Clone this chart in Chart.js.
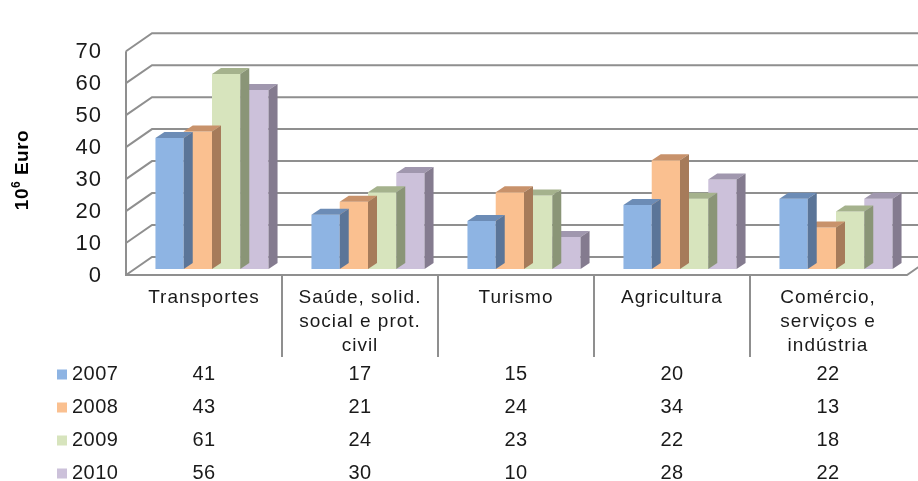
<!DOCTYPE html>
<html>
<head>
<meta charset="utf-8">
<script src="https://cdn.jsdelivr.net/npm/chart.js@4.4.0/dist/chart.umd.min.js"></script>
<style>
  html, body { margin: 0; padding: 0; background: #fff; }
</style>
</head>
<body>
<canvas id="chart" width="918" height="481"></canvas>
<script>
const categories = [
  ['Transportes'],
  ['Saúde, solid.', 'social e prot.', 'civil'],
  ['Turismo'],
  ['Agricultura'],
  ['Comércio,', 'serviços e', 'indústria']
];
const years = ['2007', '2008', '2009', '2010'];
const values2007 = [41, 17, 15, 20, 22];
const values2008 = [43, 21, 24, 34, 13];
const values2009 = [61, 24, 23, 22, 18];
const values2010 = [56, 30, 10, 28, 22];
const yTicks = [0, 10, 20, 30, 40, 50, 60, 70];

// front / top / side colours for each year
const colors = [
  ['#8eb4e3', '#6c8cb6', '#5b7598'],
  ['#fac090', '#c8926b', '#a67b5a'],
  ['#d7e4bd', '#a5b28d', '#8a9577'],
  ['#ccc1da', '#a097ae', '#847b8f']
];

const DEPTH_X = 9, DEPTH_Y = -6;
const FONT = '"Liberation Sans", Arial, sans-serif';
const TEXT = '#1a1a1a';

const threeD = {
  id: 'threeD',
  beforeDraw(chart) {
    chart.ctx.letterSpacing = '1px';
  },
  beforeDatasetsDraw(chart) {
    const ctx = chart.ctx, y = chart.scales.y, a = chart.chartArea;
    const fx = a.left - 8, bx = a.left + 18, fr = a.right - 7;
    ctx.save();
    ctx.strokeStyle = '#8f8f8f';
    ctx.lineWidth = 2;
    yTicks.forEach(v => {
      const py = y.getPixelForValue(v);
      ctx.beginPath();
      ctx.moveTo(fx, py + 6);
      ctx.lineTo(bx, py - 12);
      ctx.lineTo(fr + 26, py - 12);
      ctx.stroke();
    });
    const top = y.getPixelForValue(70), base = y.getPixelForValue(0);
    ctx.beginPath();
    ctx.moveTo(fx, top + 6);
    ctx.lineTo(fx, base + 6);
    ctx.lineTo(fr, base + 6);
    ctx.lineTo(fr + 26, base - 12);
    ctx.stroke();
    ctx.restore();
  },
  afterDatasetDraw(chart, args) {
    const ctx = chart.ctx;
    const c = colors[args.index];
    ctx.save();
    args.meta.data.forEach(bar => {
      const p = bar.getProps(['x', 'y', 'base', 'width'], true);
      const l = p.x - p.width / 2, r = p.x + p.width / 2;
      ctx.fillStyle = c[1];
      ctx.beginPath();
      ctx.moveTo(l, p.y);
      ctx.lineTo(l + DEPTH_X, p.y + DEPTH_Y);
      ctx.lineTo(r + DEPTH_X, p.y + DEPTH_Y);
      ctx.lineTo(r, p.y);
      ctx.closePath();
      ctx.fill();
      ctx.fillStyle = c[2];
      ctx.beginPath();
      ctx.moveTo(r, p.y);
      ctx.lineTo(r + DEPTH_X, p.y + DEPTH_Y);
      ctx.lineTo(r + DEPTH_X, p.base + DEPTH_Y);
      ctx.lineTo(r, p.base);
      ctx.closePath();
      ctx.fill();
    });
    ctx.restore();
  },
  afterDraw(chart) {
    const ctx = chart.ctx, x = chart.scales.x, y = chart.scales.y;
    const base = y.getPixelForValue(0) + 6;
    const colW = x.getPixelForValue(1) - x.getPixelForValue(0);
    const left = chart.chartArea.left - 8;
    ctx.save();
    // table column separators
    ctx.strokeStyle = '#8f8f8f';
    ctx.lineWidth = 2;
    for (let k = 1; k < categories.length; k++) {
      ctx.beginPath();
      ctx.moveTo(left + k * colW, base);
      ctx.lineTo(left + k * colW, base + 82);
      ctx.stroke();
    }
    ctx.fillStyle = TEXT;
    ctx.textAlign = 'center';
    ctx.textBaseline = 'middle';
    ctx.letterSpacing = '1px';
    ctx.font = '19px ' + FONT;
    categories.forEach((lines, i) => {
      const cx = left + (i + 0.5) * colW;
      lines.forEach((t, j) => ctx.fillText(t, cx, base + 23 + j * 24));
    });
    ctx.letterSpacing = '0.5px';
    ctx.font = '20px ' + FONT;
    const rows = [values2007, values2008, values2009, values2010];
    rows.forEach((vals, r) => {
      const ry = base + 99.5 + r * 33;
      ctx.fillStyle = colors[r][0];
      ctx.fillRect(57, ry - 5, 10, 10);
      ctx.fillStyle = TEXT;
      ctx.textAlign = 'left';
      ctx.fillText(years[r], 72, ry);
      ctx.textAlign = 'center';
      vals.forEach((v, i) => ctx.fillText(String(v), left + (i + 0.5) * colW, ry));
    });
    // y axis title with superscript
    ctx.fillStyle = '#000';
    ctx.letterSpacing = '0.5px';
    ctx.translate(23, 170);
    ctx.rotate(-Math.PI / 2);
    ctx.textAlign = 'left';
    ctx.font = 'bold 19px ' + FONT;
    const w10 = ctx.measureText('10').width;
    ctx.font = 'bold 12px ' + FONT;
    const w6 = ctx.measureText('6').width;
    ctx.font = 'bold 19px ' + FONT;
    const wE = ctx.measureText(' Euro').width;
    let sx = -(w10 + w6 + wE) / 2;
    ctx.fillText('10', sx, 0);
    sx += w10;
    ctx.font = 'bold 12px ' + FONT;
    ctx.fillText('6', sx, -6);
    sx += w6;
    ctx.font = 'bold 19px ' + FONT;
    ctx.fillText(' Euro', sx, 0);
    ctx.restore();
  }
};

const datasets = [values2007, values2008, values2009, values2010].map((vals, i) => ({
  label: years[i],
  data: vals,
  backgroundColor: colors[i][0],
  borderWidth: 0
}));

new Chart(document.getElementById('chart'), {
  type: 'bar',
  data: { labels: categories.map(c => c.join(' ')), datasets: datasets },
  options: {
    responsive: false,
    animation: false,
    layout: { padding: { top: 24, bottom: 212, left: 0, right: 4 } },
    datasets: { bar: { barPercentage: 1, categoryPercentage: 0.725 } },
    plugins: { legend: { display: false }, tooltip: { enabled: false } },
    scales: {
      x: { display: false },
      y: {
        min: 0,
        max: 70,
        afterFit(scale) { scale.width = 134; },
        grid: { display: false, drawTicks: false },
        border: { display: false },
        ticks: {
          stepSize: 10,
          padding: 32,
          labelOffset: 7,
          color: TEXT,
          font: { family: FONT, size: 22 }
        }
      }
    }
  },
  plugins: [threeD]
});
</script>
</body>
</html>
